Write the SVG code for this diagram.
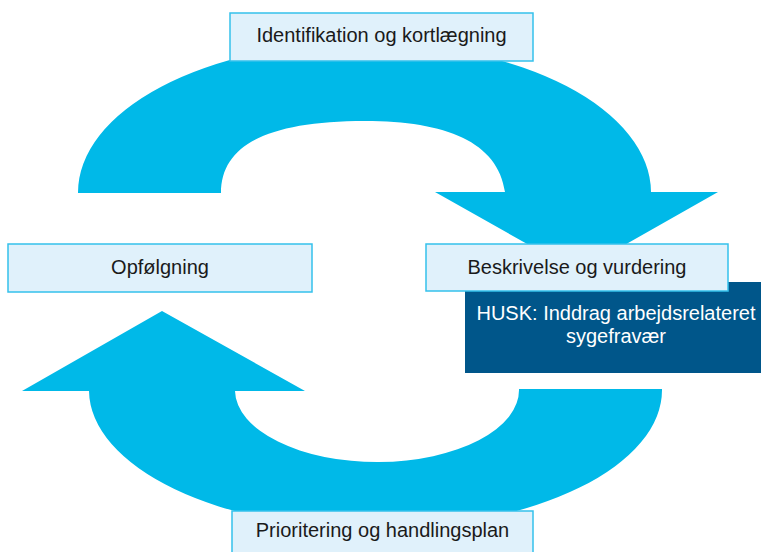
<svg xmlns="http://www.w3.org/2000/svg" width="761" height="552" viewBox="0 0 761 552">
  <style>
    .arrow { fill: #00b9e8; }
    .step rect { fill: #e0f1fb; stroke: #35c1ec; stroke-width: 1.5; }
    .step text { font-family: "Liberation Sans", Arial, sans-serif; font-size: 20px; fill: #1a1a1a; text-anchor: middle; }
    .note rect { fill: #00568a; }
    .note text { font-family: "Liberation Sans", Arial, sans-serif; font-size: 20px; fill: #ffffff; text-anchor: middle; }
  </style>
  <rect width="761" height="552" fill="#ffffff"/>

  <!-- cycle arrows -->
  <g id="connectors">
    <path class="arrow" d="M 78,193 A 286.5 150 0 0 1 651,192 L 718,192 L 577,272 L 435,192 L 505,192 C 498,142 446,121 365,121 C 268,121 221,145 221,193 Z"/>
    <path class="arrow" d="M 89,391 A 286.5 139 0 0 0 662,389 L 519,389 A 142 72 0 0 1 235,391 L 305,391 L 162,311 L 22,391 Z"/>
  </g>

  <g id="husk" class="note">
    <rect x="465" y="282" width="296" height="91"/>
    <text x="616" y="320">HUSK: Inddrag arbejdsrelateret</text>
    <text x="616" y="343">sygefravær</text>
  </g>

  <g id="identifikation" class="step">
    <rect x="230" y="13" width="303" height="48"/>
    <text x="381.5" y="42">Identifikation og kortlægning</text>
  </g>

  <g id="beskrivelse" class="step">
    <rect x="426" y="244" width="302" height="47"/>
    <text x="577" y="274">Beskrivelse og vurdering</text>
  </g>

  <g id="opfoelgning" class="step">
    <rect x="8" y="244" width="304" height="48"/>
    <text x="160" y="274">Opfølgning</text>
  </g>

  <g id="prioritering" class="step">
    <rect x="232" y="511" width="301" height="48"/>
    <text x="382.5" y="537">Prioritering og handlingsplan</text>
  </g>
</svg>
